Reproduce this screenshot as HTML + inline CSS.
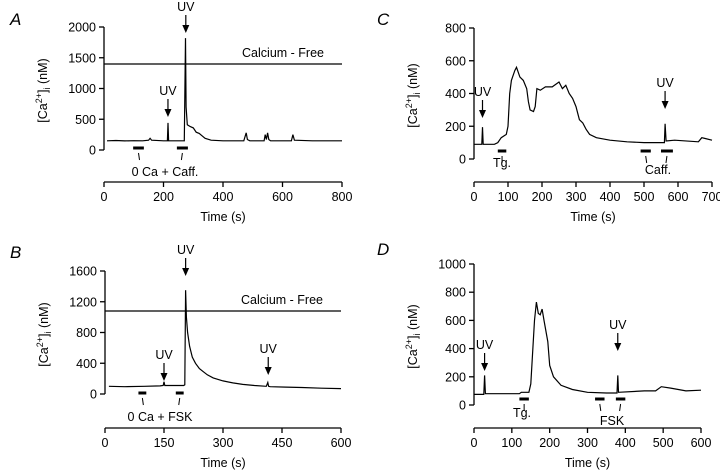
<!DOCTYPE html>
<html><head><meta charset="utf-8"><style>
body{margin:0;background:#fff}
svg{font-family:"Liberation Sans",Arial,sans-serif;fill:#000}
</style></head><body>
<svg id="fig" width="720" height="470" viewBox="0 0 720 470"></svg>
<script>
// Panel A data
const aTime=[10,40,70,100,130,150,155,160,200,213,215,217,270,274,276,280,290,300,310,320,330,340,360,400,470,478,482,490,538,542,546,550,554,560,630,635,640,700,760,800];
const aVal=[150,155,148,152,150,160,190,160,150,150,440,150,150,1820,700,410,380,360,290,270,230,190,160,150,150,280,170,150,150,250,170,280,170,150,150,250,160,150,150,150];
const aXTicks=[0,200,400,600,800];
const aYTicks=[0,500,1000,1500,2000];
// Panel B data
const bTime=[10,50,100,140,148,150,152,160,200,203,205,207,210,215,222,230,240,250,260,275,300,325,350,380,410,414,416,420,460,500,550,600];
const bVal=[100,95,100,105,110,160,110,110,110,120,1350,1000,800,620,480,400,330,290,250,210,170,145,125,110,100,150,100,95,90,85,75,70];
const bXTicks=[0,150,300,450,600];
const bYTicks=[0,400,800,1200,1600];
// Panel C data
const cTime=[0,23,25,27,60,70,80,95,100,105,110,120,125,135,145,155,160,165,175,180,185,195,210,230,250,260,270,280,290,300,305,310,320,330,340,360,400,450,500,560,562,565,590,660,670,680,700];
const cVal=[90,90,195,90,90,100,130,150,200,400,480,540,560,500,480,430,350,300,290,320,430,420,440,440,470,430,450,400,370,320,280,240,220,180,150,130,115,105,100,100,215,110,115,105,130,125,115];
const cXTicks=[0,100,200,300,400,500,600,700];
const cYTicks=[0,200,400,600,800];
// Panel D data
const dTime=[0,26,28,30,120,125,145,150,160,165,170,175,180,185,195,200,210,230,260,300,350,378,380,382,450,480,495,520,560,600];
const dVal=[75,75,210,80,80,90,90,150,600,730,650,640,680,600,450,280,200,140,110,90,85,85,210,90,100,100,130,120,100,105];
const dXTicks=[0,100,200,300,400,500,600];
const dYTicks=[0,200,400,600,800,1000];

const NS="http://www.w3.org/2000/svg";
const svg=document.getElementById('fig');
function mk(tag,attrs,parent){const e=document.createElementNS(NS,tag);for(const k in attrs)e.setAttribute(k,attrs[k]);(parent||svg).appendChild(e);return e;}

function panel(p){
  const g=mk('g',{});
  
  
  const sx=t=>p.x0+(t-p.xmin)/(p.xmax-p.xmin)*(p.x1-p.x0);
  const sy=v=>p.y0-(v-0)/(p.ymax)*(p.y0-p.y1);
  const lbl=mk('text',{x:p.lx,y:p.ly,'font-size':17,'font-style':'italic'},g);lbl.textContent=p.id;
  
  
  const ya=mk('line',{x1:p.x0,x2:p.x0,y1:sy(p.ymax),y2:sy(0),stroke:'#000','stroke-width':1.3},g);
  
  
  p.yt.forEach(v=>{
    mk('line',{x1:p.x0-5,x2:p.x0,y1:sy(v),y2:sy(v),stroke:'#000','stroke-width':1.3},g);
    const t=mk('text',{x:p.x0-8,y:sy(v)+4.5,'font-size':12.5,'text-anchor':'end'},g);t.textContent=v;
    
    
  });
  const yt=mk('text',{transform:`translate(${p.x0-57},${(sy(0)+sy(p.ymax))/2+2}) rotate(-90)`,'font-size':12.5,'text-anchor':'middle'},g);
  yt.innerHTML='[Ca<tspan font-size="9" dy="-5">2+</tspan><tspan dy="5">]</tspan><tspan font-size="9" dy="3">i</tspan><tspan dy="-3"> (nM)</tspan>';
  
  
  const xa=mk('line',{x1:p.x0,x2:p.x1,y1:p.xa,y2:p.xa,stroke:'#000','stroke-width':1.3},g);
  
  
  p.xt.forEach(v=>{
    mk('line',{x1:sx(v),x2:sx(v),y1:p.xa,y2:p.xa+5,stroke:'#000','stroke-width':1.3},g);
    const t=mk('text',{x:sx(v),y:p.xa+19,'font-size':12.5,'text-anchor':'middle'},g);t.textContent=v;
    
    
  });
  const xt=mk('text',{x:(p.x0+p.x1)/2,y:p.xa+39,'font-size':12.5,'text-anchor':'middle'},g);xt.textContent='Time (s)';
  
  
  if(p.cf){
    const l=mk('line',{x1:p.x0,x2:p.x1,y1:p.cf,y2:p.cf,stroke:'#000','stroke-width':1.2},g);
    
    
    const t=mk('text',{x:p.x1-18,y:p.cf-7,'font-size':12.5,'text-anchor':'end'},g);t.textContent='Calcium - Free';
    
    
  }
  const d=p.t.map((t,i)=>(i?'L':'M')+sx(t).toFixed(1)+','+sy(p.v[i]).toFixed(1)).join('');
  const tr=mk('path',{d:d,fill:'none',stroke:'#000','stroke-width':1.2},g);
  
  
  p.uv.forEach(u=>{
    const x=sx(u[0]),yb=u[1];
    mk('line',{x1:x,x2:x,y1:yb-18,y2:yb-6,stroke:'#000','stroke-width':1.2},g);
    mk('path',{d:`M${x-3.5},${yb-8}L${x+3.5},${yb-8}L${x},${yb}Z`},g);
    const t=mk('text',{x:x,y:yb-22,'font-size':12.5,'text-anchor':'middle'},g);t.textContent='UV';
    
    
  });
  p.bars.forEach(b=>{
    const r=mk('rect',{x:sx(b[0]),y:p.by-1.5,width:sx(b[1])-sx(b[0]),height:3},g);
    
    
    const mx=(sx(b[0])+sx(b[1]))/2;
    mk('line',{x1:mx,x2:mx+b[2],y1:p.by+5,y2:p.by+12,stroke:'#000','stroke-width':1},g);
  });
  p.notes.forEach(n=>{
    const t=mk('text',{x:n[1],y:n[2],'font-size':12.5,'text-anchor':'middle'},g);t.textContent=n[0];
    
    
  });
}
panel({id:'A',lx:10,ly:25,x0:104,x1:342,xmin:0,xmax:800,y0:150,y1:27,ymax:2000,xa:182,xt:aXTicks,yt:aYTicks,t:aTime,v:aVal,cf:64,
  uv:[[215,117],[275,33]],by:148,bars:[[98,134,1],[245,282,-1]],notes:[['0 Ca + Caff.',165,176]]});
panel({id:'B',lx:10,ly:258,x0:105,x1:341,xmin:0,xmax:600,y0:394,y1:271,ymax:1600,xa:428,xt:bXTicks,yt:bYTicks,t:bTime,v:bVal,cf:311,
  uv:[[150,381],[205,276],[415,375]],by:393,bars:[[85,105,1],[180,200,-1]],notes:[['0 Ca + FSK',160,421]]});
panel({id:'C',lx:377,ly:25,x0:474,x1:712,xmin:0,xmax:700,y0:159,y1:28,ymax:800,xa:182,xt:cXTicks,yt:cYTicks,t:cTime,v:cVal,
  uv:[[25,118],[562,109]],by:151,bars:[[70,95,0],[490,520,1],[550,585,-1]],notes:[['Tg.',502,167],['Caff.',658,174]]});
panel({id:'D',lx:377,ly:255,x0:474,x1:701,xmin:0,xmax:600,y0:405,y1:264,ymax:1000,xa:428,xt:dXTicks,yt:dYTicks,t:dTime,v:dVal,
  uv:[[28,371],[380,351]],by:399,bars:[[120,145,0],[320,345,1],[375,400,-1]],notes:[['Tg.',522,417],['FSK',612,425]]});
</script>
</body></html>
